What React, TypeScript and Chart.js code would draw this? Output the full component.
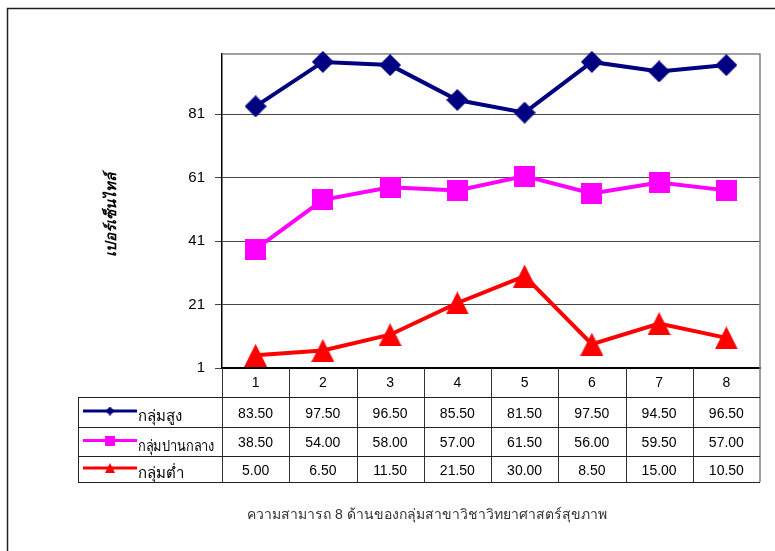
import React, { useEffect, useRef } from 'react';
import { Chart, registerables } from 'chart.js';

Chart.register(...registerables);

const categories = ['1', '2', '3', '4', '5', '6', '7', '8'];
const seriesNames = ['กลุ่มสูง', 'กลุ่มปานกลาง', 'กลุ่มต่ำ'];
const highValues = [83.5, 97.5, 96.5, 85.5, 81.5, 97.5, 94.5, 96.5];
const midValues = [38.5, 54.0, 58.0, 57.0, 61.5, 56.0, 59.5, 57.0];
const lowValues = [5.0, 6.5, 11.5, 21.5, 30.0, 8.5, 15.0, 10.5];
const yTicks = [1, 21, 41, 61, 81];
const yTitle = 'เปอร์เซ็นไทล์';
const chartTitle = 'ความสามารถ 8 ด้านของกลุ่มสาขาวิชาวิทยาศาสตร์สุขภาพ';

const FONT = '"Liberation Sans", Arial, "Noto Sans", sans-serif';
const COLORS = ['#000080', '#FF00FF', '#FF0000'];
const KINDS = ['diamond', 'square', 'triangle'];

function makeMarker(kind: string, color: string, size: number): HTMLCanvasElement {
  const c = document.createElement('canvas');
  c.width = size;
  c.height = size;
  const g = c.getContext('2d')!;
  g.fillStyle = color;
  g.beginPath();
  const s = size;
  if (kind === 'diamond') {
    g.moveTo(s / 2, 0);
    g.lineTo(s, s / 2);
    g.lineTo(s / 2, s);
    g.lineTo(0, s / 2);
  } else if (kind === 'square') {
    g.rect(0, 0, s, s);
  } else {
    g.moveTo(s / 2, 0);
    g.lineTo(s, s);
    g.lineTo(0, s);
  }
  g.closePath();
  g.fill();
  return c;
}

export default function App() {
  const ref = useRef<HTMLCanvasElement | null>(null);

  useEffect(() => {
    if (!ref.current) return;
    const bigSizes = [22, 21, 23];
    const smallSizes = [9, 10, 10];
    const bigMarkers = KINDS.map((k, i) => makeMarker(k, COLORS[i], bigSizes[i]));
    const smallMarkers = KINDS.map((k, i) => makeMarker(k, COLORS[i], smallSizes[i]));
    const seriesValues = [highValues, midValues, lowValues];

    const line = (ctx: CanvasRenderingContext2D, x1: number, y1: number, x2: number, y2: number) => {
      ctx.beginPath();
      ctx.moveTo(x1, y1);
      ctx.lineTo(x2, y2);
      ctx.stroke();
    };

    const framePlugin = {
      id: 'frameAndTable',
      beforeDraw(chart: any) {
        const ctx = chart.ctx as CanvasRenderingContext2D;
        ctx.save();
        ctx.fillStyle = '#ffffff';
        ctx.fillRect(0, 0, chart.width, chart.height);
        ctx.strokeStyle = '#222222';
        ctx.lineWidth = 1.5;
        ctx.beginPath();
        ctx.moveTo(7.5, chart.height + 5);
        ctx.lineTo(7.5, 8.5);
        ctx.lineTo(chart.width + 5, 8.5);
        ctx.stroke();
        ctx.restore();
      },
      beforeDatasetsDraw(chart: any) {
        const ctx = chart.ctx as CanvasRenderingContext2D;
        const a = chart.chartArea;
        ctx.save();
        ctx.strokeStyle = '#808080';
        ctx.lineWidth = 1.5;
        ctx.beginPath();
        ctx.moveTo(a.left, a.top);
        ctx.lineTo(a.right, a.top);
        ctx.lineTo(a.right, a.bottom);
        ctx.stroke();
        ctx.restore();
      },
      afterDraw(chart: any) {
        const ctx = chart.ctx as CanvasRenderingContext2D;
        const a = chart.chartArea;
        const xs = chart.scales.x;
        const top = a.bottom;
        const rows = [top, top + 29, top + 59, top + 88, top + 114];
        const tableLeft = 78;
        ctx.save();
        // vertical cell lines
        ctx.strokeStyle = '#333333';
        ctx.lineWidth = 1;
        for (let i = 0; i < categories.length; i++) {
          const bx = Math.round(xs.getPixelForValue(i - 0.5)) + 0.5;
          line(ctx, bx, top, bx, rows[4]);
        }
        ctx.strokeStyle = '#808080';
        ctx.lineWidth = 1.5;
        line(ctx, a.right, top, a.right, rows[4]);
        // horizontal lines
        ctx.strokeStyle = '#222222';
        ctx.lineWidth = 1;
        for (let r = 1; r <= 4; r++) {
          line(ctx, tableLeft, rows[r] + 0.5, a.right, rows[r] + 0.5);
        }
        line(ctx, tableLeft + 0.5, rows[1], tableLeft + 0.5, rows[4]);

        // cells
        ctx.textBaseline = 'middle';
        seriesValues.forEach((vals, r) => {
          const cy = (rows[r + 1] + rows[r + 2]) / 2 + 2;
          ctx.font = `14px ${FONT}`;
          ctx.textAlign = 'center';
          ctx.fillStyle = '#000000';
          vals.forEach((v, i) => {
            ctx.fillText(v.toFixed(2), xs.getPixelForValue(i), cy);
          });
          // legend key
          const ky = cy - 3;
          ctx.strokeStyle = COLORS[r];
          ctx.lineWidth = 3;
          line(ctx, 83, ky, 137, ky);
          const m = smallMarkers[r];
          ctx.drawImage(m, 110 - m.width / 2, ky - m.height / 2);
          ctx.textAlign = 'left';
          ctx.fillStyle = '#000000';
          ctx.font = `15px ${FONT}`;
          ctx.fillText(seriesNames[r], 138, cy + 3, 76);
        });

        // bottom title
        ctx.font = `14px ${FONT}`;
        ctx.fillStyle = '#333333';
        ctx.textAlign = 'center';
        ctx.textBaseline = 'middle';
        ctx.fillText(chartTitle, 427, 515, 374);

        // y axis title
        ctx.save();
        ctx.translate(112, 215);
        ctx.rotate(-Math.PI / 2);
        ctx.font = `italic bold 15px ${FONT}`;
        ctx.fillStyle = '#000000';
        ctx.textAlign = 'center';
        ctx.textBaseline = 'middle';
        ctx.fillText(yTitle, 0, 0);
        ctx.restore();
        ctx.restore();
      },
    };

    const chart = new Chart(ref.current, {
      type: 'line',
      data: {
        labels: categories,
        datasets: seriesValues.map((vals, i) => ({
          label: seriesNames[i],
          data: vals,
          borderColor: COLORS[i],
          backgroundColor: COLORS[i],
          borderWidth: 4,
          pointStyle: bigMarkers[i] as any,
          pointRadius: 11,
          pointHoverRadius: 11,
          tension: 0,
          fill: false,
          clip: false as any,
        })),
      },
      options: {
        responsive: false,
        animation: false,
        layout: { padding: { top: 54, right: 13, bottom: 153, left: 0 } },
        plugins: {
          legend: { display: false },
          tooltip: { enabled: false },
          title: { display: false },
        },
        scales: {
          x: {
            type: 'category',
            offset: true,
            grid: { display: false, drawTicks: false },
            border: { display: true, color: '#000000', width: 2 },
            ticks: {
              font: { size: 14, family: FONT },
              color: '#000000',
              padding: 7,
              maxRotation: 0,
              autoSkip: false,
            },
            afterFit(s: any) {
              s.height = 30;
            },
          },
          y: {
            min: 1,
            max: 100,
            afterBuildTicks(s: any) {
              s.ticks = yTicks.map((v) => ({ value: v }));
            },
            grid: { color: '#444444', lineWidth: 1, tickLength: 7, drawTicks: true },
            border: { display: true, color: '#000000', width: 1.5 },
            ticks: {
              font: { size: 15, family: FONT },
              color: '#000000',
              padding: 10,
            },
            afterFit(s: any) {
              s.width = 222;
            },
          },
        },
      },
      plugins: [framePlugin],
    });

    return () => chart.destroy();
  }, []);

  return (
    <div style={{ position: 'fixed', left: 0, top: 0, width: 775, height: 551, background: '#fff' }}>
      <canvas ref={ref} width={775} height={551} style={{ display: 'block', width: 775, height: 551 }} />
    </div>
  );
}
